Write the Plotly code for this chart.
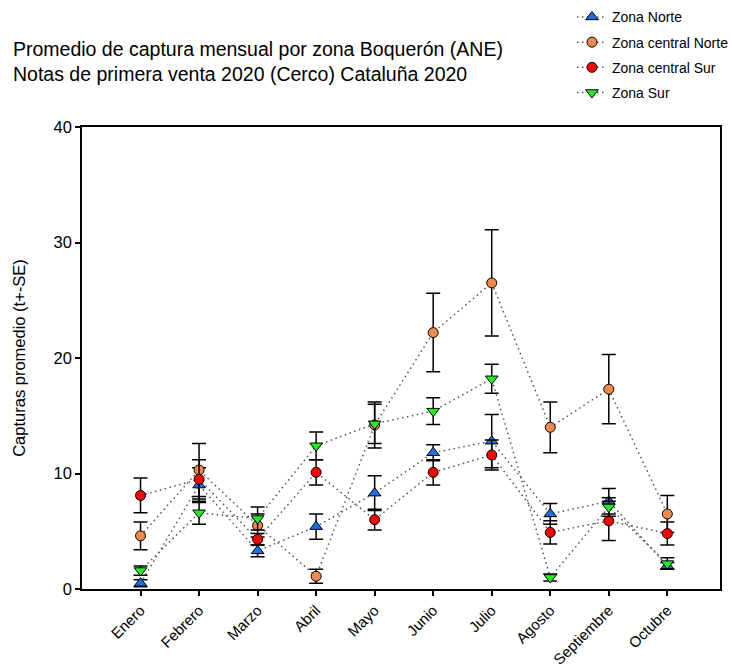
import plotly.graph_objects as go

months = ["Enero", "Febrero", "Marzo", "Abril", "Mayo", "Junio", "Julio",
          "Agosto", "Septiembre", "Octubre"]
series_names = ["Zona Norte", "Zona central Norte", "Zona central Sur", "Zona Sur"]

norte = [0.5, 9.0, 3.3, 5.4, 8.3, 11.8, 12.8, 6.5, 7.6, 2.0]
norte_se = [0.3, 1.5, 0.5, 1.1, 1.5, 0.7, 2.3, 0.9, 1.1, 0.3]
cnorte = [4.6, 10.3, 5.5, 1.1, 14.2, 22.2, 26.5, 14.0, 17.3, 6.5]
cnorte_se = [1.2, 2.3, 1.0, 0.6, 2.0, 3.4, 4.6, 2.2, 3.0, 1.6]
csur = [8.1, 9.5, 4.3, 10.1, 6.0, 10.1, 11.6, 4.9, 5.9, 4.8]
csur_se = [1.5, 1.7, 0.5, 1.1, 0.9, 1.1, 1.3, 1.0, 1.7, 1.0]
sur = [1.6, 6.6, 6.1, 12.4, 14.3, 15.4, 18.2, 1.0, 7.1, 2.2]
sur_se = [0.4, 1.0, 1.0, 1.2, 1.7, 1.15, 1.25, 0.3, 0.8, 0.5]

y_ticks = [0, 10, 20, 30, 40]
title_lines = ["Promedio de captura mensual por zona Boquerón (ANE)",
               "Notas de primera venta 2020 (Cerco) Cataluña 2020"]
y_title = "Capturas promedio (t+-SE)"

FONT = "Liberation Sans, Arial, sans-serif"
x = list(range(len(months)))

styles = [
    dict(symbol="triangle-up", color="#1a6fe6", size=11),
    dict(symbol="circle", color="#f08a4c", size=10),
    dict(symbol="circle", color="#ff0000", size=10),
    dict(symbol="triangle-down", color="#22ee22", size=11),
]
data = [(norte, norte_se), (cnorte, cnorte_se), (csur, csur_se), (sur, sur_se)]

fig = go.Figure()
for i, (name, (vals, se), st) in enumerate(zip(series_names, data, styles)):
    fig.add_trace(go.Scatter(
        x=x, y=vals, name=name, mode="lines+markers", legendgroup=f"g{i}",
        line=dict(color="#555555", width=1.5, dash="1.5px,3.5px"),
        marker=dict(symbol=st["symbol"], color=st["color"], size=st["size"],
                    line=dict(color="black", width=1)),
        error_y=dict(type="data", array=se, visible=True, color="black",
                     thickness=1.5, width=7),
        cliponaxis=False,
    ))

fig.update_layout(
    width=734, height=671,
    margin=dict(l=82, r=14, t=127, b=82, autoexpand=False),
    paper_bgcolor="white", plot_bgcolor="white",
    font=dict(family=FONT, color="black"),
    showlegend=True,
    legend=dict(x=0.768, y=1.272, xanchor="left", yanchor="top",
                font=dict(size=14, family=FONT), bgcolor="rgba(0,0,0,0)",
                tracegroupgap=4, itemwidth=30),
    annotations=[
        dict(text="<br>".join(title_lines), xref="paper", yref="paper",
             x=-0.111, y=1.197, xanchor="left", yanchor="top", align="left",
             showarrow=False, font=dict(size=19.5, family=FONT)),
    ],
)
fig.update_xaxes(
    range=[-1.0, 9.9], tickmode="array", tickvals=x, ticktext=months,
    tickangle=-45, ticks="outside", ticklen=5, tickwidth=1.5, tickcolor="black",
    showline=True, linecolor="black", linewidth=1.5, mirror=True,
    showgrid=False, zeroline=False, tickfont=dict(size=15, family=FONT),
)
fig.update_yaxes(
    range=[0, 40], tickmode="array", tickvals=y_ticks,
    ticks="outside", ticklen=5, tickwidth=1.5, tickcolor="black",
    showline=True, linecolor="black", linewidth=1.5, mirror=True,
    showgrid=False, zeroline=False, tickfont=dict(size=16.5, family=FONT),
    title=dict(text=y_title, font=dict(size=16.5, family=FONT), standoff=24),
)

fig.write_html("out.html")
